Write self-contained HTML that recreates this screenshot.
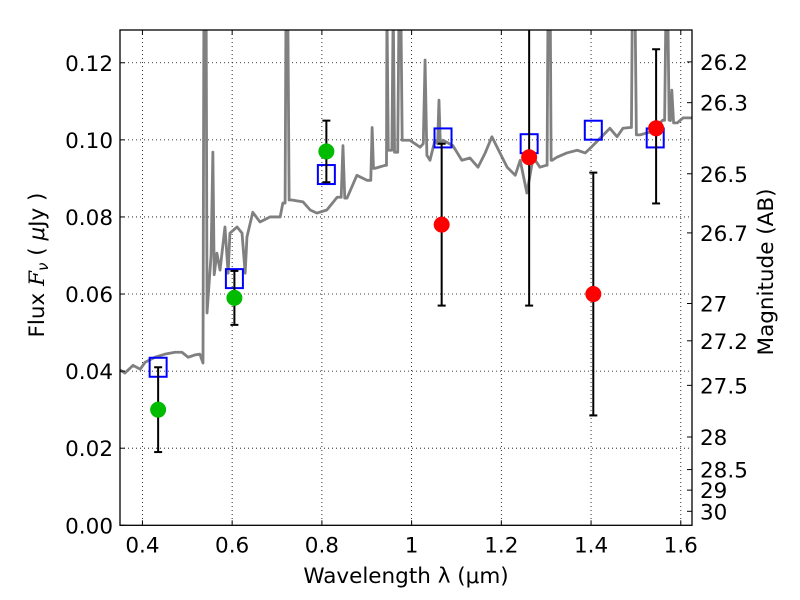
<!DOCTYPE html>
<html><head><meta charset="utf-8"><style>body{margin:0;background:#fff}svg{display:block;font-family:"DejaVu Sans","Liberation Sans",sans-serif}</style></head>
<body>
<svg id="c" width="800" height="600" viewBox="0 0 800 600"></svg>
<script>
const specWl=[0.350,0.361,0.379,0.395,0.406,0.428,0.450,0.473,0.488,0.502,0.517,0.528,0.535,0.537,0.542,0.544,0.553,0.557,0.560,0.566,0.573,0.584,0.591,0.595,0.611,0.622,0.629,0.633,0.646,0.662,0.684,0.707,0.713,0.718,0.720,0.724,0.727,0.733,0.758,0.774,0.789,0.811,0.834,0.843,0.847,0.851,0.856,0.878,0.901,0.909,0.912,0.915,0.918,0.941,0.944,0.945,0.948,0.952,0.956,0.959,0.962,0.965,0.969,0.972,0.976,0.979,0.981,0.996,1.019,1.026,1.030,1.034,1.041,1.052,1.058,1.061,1.064,1.070,1.092,1.112,1.130,1.148,1.164,1.179,1.197,1.213,1.231,1.242,1.257,1.271,1.286,1.300,1.302,1.304,1.309,1.311,1.313,1.324,1.346,1.369,1.387,1.404,1.442,1.458,1.471,1.487,1.490,1.492,1.498,1.501,1.509,1.531,1.560,1.564,1.567,1.571,1.574,1.577,1.580,1.584,1.592,1.605,1.625];
const specF=[0.0403,0.0395,0.0415,0.0405,0.0423,0.0436,0.0444,0.0449,0.0449,0.0436,0.0442,0.0444,0.0421,0.135,0.135,0.0551,0.0700,0.0968,0.0650,0.0706,0.0662,0.0774,0.0654,0.0758,0.0774,0.0758,0.0654,0.0748,0.0812,0.0787,0.0800,0.0800,0.0836,0.0836,0.135,0.135,0.0844,0.0844,0.0839,0.0818,0.0810,0.0818,0.0851,0.0851,0.0985,0.0849,0.0849,0.0908,0.0895,0.0895,0.1032,0.0926,0.0926,0.0934,0.0934,0.135,0.0973,0.0973,0.0973,0.135,0.0968,0.0968,0.0968,0.135,0.135,0.0999,0.0999,0.0999,0.0981,0.0990,0.1207,0.0960,0.0947,0.0999,0.0990,0.1103,0.0990,0.0999,0.0985,0.0947,0.0953,0.0929,0.0966,0.1008,0.0966,0.0929,0.0908,0.0947,0.0862,0.0955,0.0929,0.0934,0.0934,0.135,0.135,0.0947,0.0947,0.0955,0.0966,0.0973,0.0966,0.0985,0.1030,0.1008,0.1030,0.1032,0.1032,0.135,0.135,0.1013,0.1013,0.1020,0.1051,0.1051,0.135,0.135,0.1051,0.1050,0.1129,0.1044,0.1044,0.1057,0.1057];
const greenWl=[0.435,0.605,0.81];
const greenF=[0.030,0.059,0.097];
const greenLo=[0.019,0.052,0.089];
const greenHi=[0.041,0.066,0.105];
const redWl=[1.067,1.262,1.405,1.545];
const redF=[0.078,0.0955,0.060,0.103];
const redLo=[0.057,0.057,0.0285,0.0835];
const redHi=[0.099,0.14,0.0915,0.1235];
const modelWl=[0.435,0.605,0.81,1.07,1.262,1.405,1.543];
const modelF=[0.041,0.064,0.091,0.1005,0.099,0.1025,0.1005];
const xTicks=[0.4,0.6,0.8,1.0,1.2,1.4,1.6];
const xTickLabels=["0.4","0.6","0.8","1","1.2","1.4","1.6"];
const yTicks=[0,0.02,0.04,0.06,0.08,0.10,0.12];
const yTickLabels=["0.00","0.02","0.04","0.06","0.08","0.10","0.12"];
const magTicks=[26.2,26.3,26.5,26.7,27,27.2,27.5,28,28.5,29,30];
const magTickLabels=["26.2","26.3","26.5","26.7","27","27.2","27.5","28","28.5","29","30"];

const L=120,R=692,T=30,B=525.3,X0=0.35,X1=1.625,Y0=0,Y1=0.1285;
const sx=v=>L+(v-X0)/(X1-X0)*(R-L);
const sy=v=>B-(v-Y0)/(Y1-Y0)*(B-T);
const NS="http://www.w3.org/2000/svg";
const svg=document.getElementById('c');
function mk(tag,at,parent){const e=document.createElementNS(NS,tag);for(const k in at)e.setAttribute(k,at[k]);(parent||svg).appendChild(e);return e;}
const defs=mk('defs',{});const cp=mk('clipPath',{id:'clip'},defs);mk('rect',{x:L,y:T,width:R-L,height:B-T},cp);

const grid=mk('g',{stroke:'#000','stroke-width':0.8,'stroke-dasharray':'1,3'});


xTicks.forEach(v=>{mk('line',{x1:sx(v),x2:sx(v),y1:T,y2:B},grid);});
yTicks.forEach(v=>{if(v>0)mk('line',{x1:L,x2:R,y1:sy(v),y2:sy(v)},grid);});

const plot=mk('g',{'clip-path':'url(#clip)'});
const sp=mk('polyline',{points:specWl.map((w,i)=>sx(w)+','+sy(specF[i])).join(' '),fill:'none',stroke:'#808080','stroke-width':2.8,'stroke-linejoin':'round'},plot);



function errbars(wl,lo,hi,name){
  wl.forEach((w,i)=>{const g=mk('g',{stroke:'#000','stroke-width':2},plot);
    
    
    mk('line',{x1:sx(w),x2:sx(w),y1:sy(lo[i]),y2:sy(hi[i])},g);
    mk('line',{x1:sx(w)-4,x2:sx(w)+4,y1:sy(lo[i]),y2:sy(lo[i])},g);
    mk('line',{x1:sx(w)-4,x2:sx(w)+4,y1:sy(hi[i]),y2:sy(hi[i])},g);});
}
modelWl.forEach((w,i)=>{const r=mk('rect',{x:sx(w)-8.5,y:sy(modelF[i])-9.5,width:17,height:19,fill:'none',stroke:'#0000ff','stroke-width':2},plot);
  
  });
errbars(greenWl,greenLo,greenHi,'green');
errbars(redWl,redLo,redHi,'red');
greenWl.forEach((w,i)=>{const c=mk('circle',{cx:sx(w),cy:sy(greenF[i]),r:8,fill:'#00bb00'},plot);
  
  });
redWl.forEach((w,i)=>{const c=mk('circle',{cx:sx(w),cy:sy(redF[i]),r:8,fill:'#ff0000'},plot);
  
  });

const fr=mk('rect',{x:L,y:T,width:R-L,height:B-T,fill:'none',stroke:'#000','stroke-width':1.3});



const ax=mk('g',{stroke:'#000','stroke-width':1});
xTicks.forEach((v,i)=>{mk('line',{x1:sx(v),x2:sx(v),y1:B,y2:B-5},ax);mk('line',{x1:sx(v),x2:sx(v),y1:T,y2:T+5},ax);
  const t=mk('text',{x:sx(v),y:B+27,'text-anchor':'middle','font-size':21.5,stroke:'none',fill:'#000'});t.textContent=xTickLabels[i];
  
  });
yTicks.forEach((v,i)=>{mk('line',{x1:L,x2:L+5,y1:sy(v),y2:sy(v)},ax);
  const t=mk('text',{x:L-7,y:sy(v)+8,'text-anchor':'end','font-size':21.5,stroke:'none',fill:'#000'});t.textContent=yTickLabels[i];
  
  });
magTicks.forEach((m,i)=>{const f=Math.pow(10,(23.9-m)/2.5);const y=sy(f);
  mk('line',{x1:R,x2:R-5,y1:y,y2:y},ax);
  const t=mk('text',{x:R+8,y:y+8,'font-size':21.5,stroke:'none',fill:'#000'});t.textContent=magTickLabels[i];
  
  });

const xt=mk('text',{x:406,y:583,'text-anchor':'middle','font-size':21.5});xt.textContent='Wavelength  λ (μm)';


const yt=mk('text',{x:0,y:0,'text-anchor':'middle','font-size':21.5,transform:'translate(44,265) rotate(-90)'});
yt.innerHTML='Flux  <tspan font-style="italic" font-family="DejaVu Serif, serif">F</tspan><tspan font-style="italic" font-size="15" dy="4">ν</tspan><tspan dy="-4">  (  </tspan><tspan font-style="italic">μ</tspan>Jy )';


const rt=mk('text',{x:0,y:0,'text-anchor':'middle','font-size':21.5,transform:'translate(773,272) rotate(-90)'});rt.textContent='Magnitude (AB)';


</script>
</body></html>
